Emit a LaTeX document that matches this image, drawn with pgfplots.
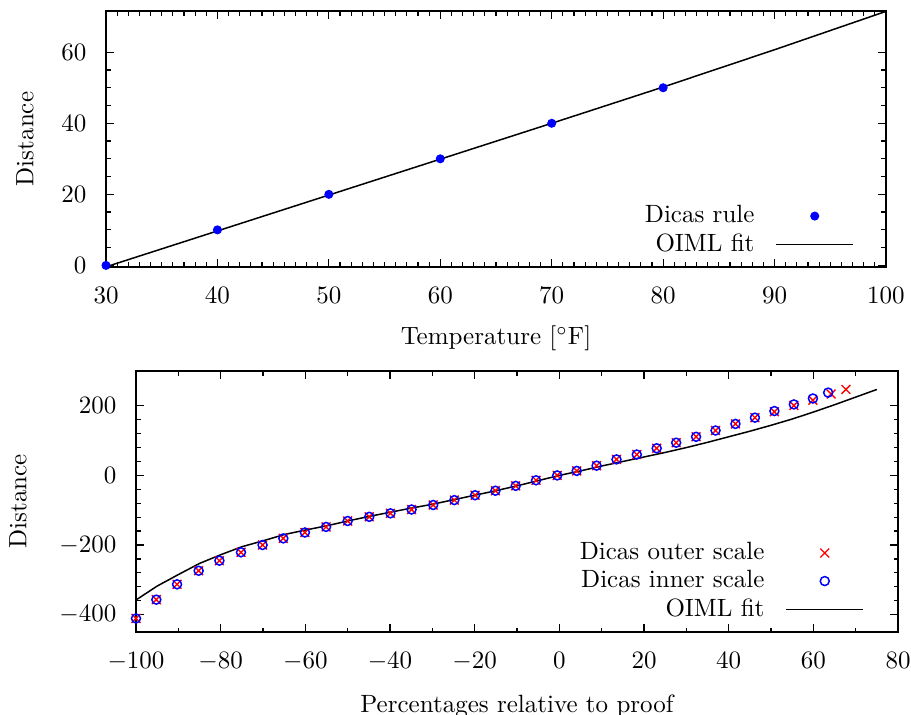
\documentclass[border=0pt]{standalone}
\usepackage{pgfplots}
\pgfplotsset{compat=1.18}
\pgfplotsset{
  myaxis/.style={
    scale only axis,
    anchor=south west,
    axis line style={line width=0.6pt},
    every tick/.style={black, line width=0.5pt},
    major tick length=3.2pt,
    minor tick length=1.8pt,
    tick align=inside,
    xticklabel style={yshift=-4.6pt},
    yticklabel style={xshift=-4.3pt},
    legend cell align=right,
    legend plot pos=right,
    legend style={draw=none, fill=none, at={(rel axis cs:1,0)}, anchor=south east,
      row sep=0pt, nodes={inner sep=1.4pt}},
  },
  markleg/.style={legend image code/.code={\path (0pt,0pt); \draw[mark repeat=2,mark phase=2,##1] plot coordinates {(7pt,0pt) (22.4pt,0pt) (37.8pt,0pt)};}},
  lineleg/.style={legend image code/.code={\path (0pt,0pt); \draw[##1] (7pt,0pt) -- (37.8pt,0pt);}},
}
\begin{document}
\begin{tikzpicture}[x=1pt,y=1pt]
\path[use as bounding box] (0,0) rectangle (364.4,-286);
% ---------- top axis ----------
\begin{axis}[myaxis,
  at={(42.4pt,-106.8pt)},
  width=312pt, height=102.4pt,
  xmin=30, xmax=100, ymin=-0.45, ymax=71.6,
  xtick={30,40,...,100}, ytick={0,20,40,60},
  minor x tick num=9, minor y tick num=3,
  xlabel={Temperature [$^{\circ}$F]}, ylabel={Distance},
  xlabel style={at={(axis description cs:0.5,0)}, anchor=center, yshift=-28.4pt},
  ylabel style={at={(axis description cs:-0.10385,0.5)}, anchor=center},
  legend style={xshift=-9.6pt, yshift=1.2pt},
]
\addplot[only marks, mark=*, mark size=1.6pt, color=blue, markleg] coordinates {
(30,0) (40,10) (50,20) (60,30) (70,40) (80,50)};
\addlegendentry{Dicas rule}
\addplot[black, line width=0.6pt, lineleg] coordinates {
(30,-0.4) (40,9.7) (50,19.8) (60,29.9) (70,40) (80,50.2) (90,60.7) (100,71.5)};
\addlegendentry{OIML fit}
\end{axis}
% ---------- bottom axis ----------
\begin{axis}[myaxis,
  at={(54.4pt,-252.8pt)},
  width=304.8pt, height=104.4pt,
  xmin=-100, xmax=80, ymin=-450, ymax=300,
  xtick={-100,-80,...,80}, ytick={-400,-200,0,200},
  minor x tick num=1, minor y tick num=4,
  xlabel={Percentages relative to proof}, ylabel={Distance},
  xlabel style={at={(axis description cs:0.5,0)}, anchor=center, yshift=-29.8pt},
  ylabel style={at={(axis description cs:-0.15486,0.5)}, anchor=center},
  legend style={xshift=-10.4pt, yshift=1.2pt},
]
\addplot[only marks, mark=x, mark size=2.5pt, color=red, mark options={line width=0.55pt}, markleg] coordinates {
(-100,-411) (-95.2,-357) (-90.3,-313) (-85.2,-274) (-80.3,-245) (-75.2,-221)
(-70.1,-200) (-65.2,-181) (-60.1,-164) (-55.1,-148) (-50.0,-131) (-44.9,-119)
(-39.9,-109) (-34.9,-98) (-29.8,-85) (-24.8,-71) (-19.9,-57) (-15.1,-44)
(-10.3,-30) (-5.5,-14) (-0.5,0) (4.1,13) (8.8,28) (13.5,46) (18.3,60)
(23.0,78) (27.6,94) (32.3,111) (36.9,129) (41.6,148) (46.2,166) (50.8,183)
(55.4,201) (59.9,216) (64.2,234) (67.7,247)};
\addlegendentry{Dicas outer scale}
\addplot[only marks, mark=o, mark size=1.8pt, color=blue, mark options={line width=0.6pt}, markleg] coordinates {
(-100,-411) (-95.2,-357) (-90.3,-313) (-85.2,-274) (-80.3,-245) (-75.2,-221)
(-70.1,-200) (-65.2,-181) (-60.1,-164) (-55.1,-148) (-50.0,-131) (-44.9,-119)
(-39.9,-109) (-34.9,-98) (-29.8,-85) (-24.8,-71) (-19.9,-57) (-15.1,-44)
(-10.3,-30) (-5.5,-14) (-0.5,0) (4.1,13) (8.8,28) (13.5,46) (18.3,60)
(23.0,78) (27.6,94) (32.3,111) (36.9,129) (41.6,148) (46.2,166) (50.8,185)
(55.4,204) (59.9,221) (63.5,238)};
\addlegendentry{Dicas inner scale}
\addplot[black, line width=0.6pt, lineleg] coordinates {
(-100,-358) (-95,-318) (-90,-285) (-85,-253) (-80,-228) (-75,-205) (-70,-188)
(-65,-170) (-60,-157) (-55,-145) (-50,-131) (-45,-118) (-40,-106) (-35,-94)
(-30,-83) (-25,-70) (-20,-57) (-15,-44) (-10,-30) (-5,-15) (0,0) (5,13)
(10,27) (15,40) (20,53) (25,66) (30,80) (35,95) (40,111) (45,127) (50,144)
(55,162) (60,182) (65,203) (70,225) (75,247)};
\addlegendentry{OIML fit}
\end{axis}
\end{tikzpicture}
\end{document}
